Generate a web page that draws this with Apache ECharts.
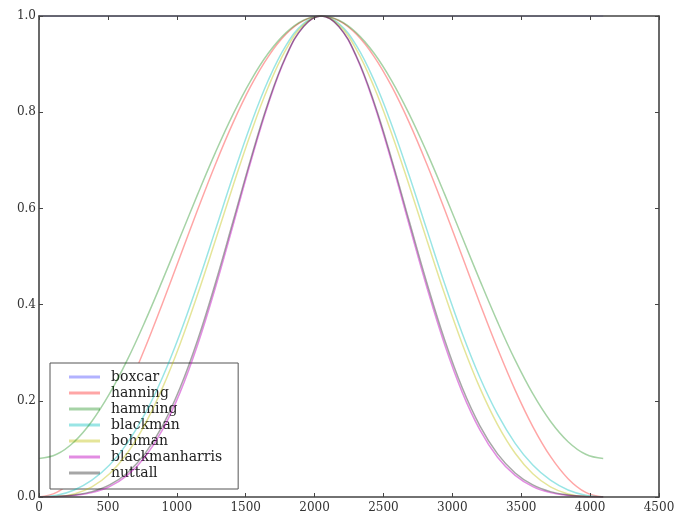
<!DOCTYPE html>
<html>
<head>
<meta charset="utf-8">
<script src="https://cdn.jsdelivr.net/npm/echarts@6/dist/echarts.min.js"></script>
<style>html,body{margin:0;padding:0;background:#fff}#c{width:678px;height:516px}</style>
</head>
<body>
<div id="c"></div>
<script>
const sampleX = [0,128,256,384,512,640,768,896,1024,1152,1280,1408,1536,1664,1792,1920,2048,2176,2304,2432,2560,2688,2816,2944,3072,3200,3328,3456,3584,3712,3840,3968,4095];
const boxcar = [1,1,1,1,1,1,1,1,1,1,1,1,1,1,1,1,1,1,1,1,1,1,1,1,1,1,1,1,1,1,1,1,1];
const hanning = [0,0.0096,0.0381,0.0843,0.1464,0.2222,0.3087,0.4025,0.5,0.5975,0.6913,0.7778,0.8536,0.9157,0.9619,0.9904,1,0.9904,0.9619,0.9157,0.8536,0.7778,0.6913,0.5975,0.5,0.4025,0.3087,0.2222,0.1464,0.0843,0.0381,0.0096,0];
const hamming = [0.08,0.0888,0.1150,0.1575,0.2147,0.2844,0.3640,0.4503,0.54,0.6297,0.7160,0.7956,0.8653,0.9225,0.9650,0.9912,1,0.9912,0.9650,0.9225,0.8653,0.7956,0.7160,0.6297,0.54,0.4503,0.3640,0.2844,0.2147,0.1575,0.1150,0.0888,0.08];
const blackman = [0,0.0035,0.0146,0.0349,0.0664,0.1116,0.1721,0.2485,0.34,0.4436,0.5548,0.6672,0.7736,0.8663,0.9385,0.9843,1,0.9843,0.9385,0.8663,0.7736,0.6672,0.5548,0.4436,0.34,0.2485,0.1721,0.1116,0.0664,0.0349,0.0146,0.0035,0];
const bohman = [0,0.0008,0.0063,0.0209,0.0483,0.0910,0.1506,0.2268,0.3183,0.4219,0.5333,0.6466,0.7554,0.8524,0.9302,0.9816,1,0.9816,0.9302,0.8524,0.7554,0.6466,0.5333,0.4219,0.3183,0.2268,0.1506,0.0910,0.0483,0.0209,0.0063,0.0008,0];
const blackmanharris = [0.0001,0.0007,0.0031,0.0091,0.0217,0.0449,0.0828,0.1395,0.2175,0.3170,0.4349,0.5645,0.6958,0.8165,0.9142,0.9779,1,0.9779,0.9142,0.8165,0.6958,0.5645,0.4349,0.3170,0.2175,0.1395,0.0828,0.0449,0.0217,0.0091,0.0031,0.0007,0.0001];
const nuttall = [0.0004,0.0012,0.0042,0.0112,0.0252,0.0500,0.0896,0.1479,0.2270,0.3269,0.4444,0.5726,0.7020,0.8205,0.9162,0.9784,1,0.9784,0.9162,0.8205,0.7020,0.5726,0.4444,0.3269,0.2270,0.1479,0.0896,0.0500,0.0252,0.0112,0.0042,0.0012,0.0004];
const names = ['boxcar','hanning','hamming','blackman','bohman','blackmanharris','nuttall'];
const values = [boxcar,hanning,hamming,blackman,bohman,blackmanharris,nuttall];
const colors = ['rgba(0,0,255,0.3)','rgba(255,0,0,0.35)','rgba(0,128,0,0.35)','rgba(0,191,191,0.4)','rgba(191,191,0,0.4)','rgba(191,0,191,0.45)','rgba(0,0,0,0.35)'];
const xTicks = [0,500,1000,1500,2000,2500,3000,3500,4000,4500];
const yTicks = [0.0,0.2,0.4,0.6,0.8,1.0];

const chart = echarts.init(document.getElementById('c'), null, {renderer:'canvas'});
const axisLine = {show:true, onZero:false, lineStyle:{color:'#444', width:1.6}};
const tick = {show:true, inside:true, length:4, lineStyle:{color:'#444', width:1}};
const lbl = {fontFamily:'DejaVu Serif', fontSize:12, color:'#333'};
chart.setOption({
  animation:false,
  backgroundColor:'#fff',
  grid:{left:39, right:19, top:16, bottom:19, containLabel:false},
  xAxis:[
    {type:'value', min:xTicks[0], max:xTicks[xTicks.length-1], interval:500, position:'bottom', z:10,
     axisLine:axisLine, axisTick:tick, splitLine:{show:false},
     axisLabel:Object.assign({margin:5, formatter:v=>String(v)}, lbl)},
    {type:'value', min:xTicks[0], max:xTicks[xTicks.length-1], interval:500, position:'top', z:10,
     axisLine:axisLine, axisTick:tick, splitLine:{show:false}, axisLabel:{show:false}}
  ],
  yAxis:[
    {type:'value', min:yTicks[0], max:yTicks[yTicks.length-1], interval:0.2, position:'left', z:10,
     axisLine:axisLine, axisTick:tick, splitLine:{show:false},
     axisLabel:Object.assign({margin:3, formatter:v=>v.toFixed(1)}, lbl)},
    {type:'value', min:yTicks[0], max:yTicks[yTicks.length-1], interval:0.2, position:'right', z:10,
     axisLine:axisLine, axisTick:tick, splitLine:{show:false}, axisLabel:{show:false}}
  ],
  legend:{
    orient:'vertical', left:50, top:363,
    padding:[7,16,9,19], itemGap:2, itemWidth:31, itemHeight:3,
    backgroundColor:'#fff', borderColor:'#555', borderWidth:1,
    icon:'rect',
    textStyle:{fontFamily:'DejaVu Serif', fontSize:14, color:'#222', padding:[0,0,0,6]},
    data:names
  },
  series: names.map((n,i)=>({
    name:n, type:'line', xAxisIndex:0, yAxisIndex:0,
    data: sampleX.map((x,j)=>[x, values[i][j]]),
    showSymbol:false, symbol:'none', smooth:0.4,
    color:colors[i],
    lineStyle:{color:colors[i], width:1.5},
    z: 2 + i
  }))
});
</script>
</body>
</html>
